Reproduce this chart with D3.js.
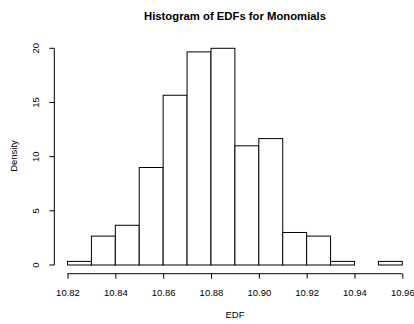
<!DOCTYPE html>
<html>
<head>
<meta charset="utf-8">
<script src="https://cdn.jsdelivr.net/npm/d3@7"></script>
<style>
  html, body { margin: 0; padding: 0; background: #fff; }
  svg { display: block; }
  text { font-family: "Liberation Sans", Arial, Helvetica, sans-serif; fill: #000; }
</style>
</head>
<body>
<svg id="chart" width="414" height="324"></svg>
<script>
// Histogram bins (EDF values, width 0.01) and observation counts per bin
const binStarts = [10.82, 10.83, 10.84, 10.85, 10.86, 10.87, 10.88, 10.89, 10.90, 10.91, 10.92, 10.93, 10.94, 10.95];
const binWidth = 0.01;
const counts = [1, 8, 11, 27, 47, 59, 60, 33, 35, 9, 8, 1, 0, 1];
const xTicks = [10.82, 10.84, 10.86, 10.88, 10.90, 10.92, 10.94, 10.96];
const yTicks = [0, 5, 10, 15, 20];

const total = d3.sum(counts);
const density = counts.map(c => c / (total * binWidth));

const svg = d3.select("#chart");
const fontFamily = "'Liberation Sans', Arial, sans-serif";
const labelSize = "9.5px";

// Plot region with 4% padding around the data range
const x = d3.scaleLinear().domain([10.82, 10.96]).range([67.5, 402.3]);
const y = d3.scaleLinear().domain([0, 20]).range([265, 48.3]);

const bars = binStarts.map((s, i) => ({ x0: s, x1: s + binWidth, d: density[i] }));

svg.append("g")
  .selectAll("rect")
  .data(bars)
  .join("rect")
  .attr("x", d => x(d.x0))
  .attr("y", d => y(d.d))
  .attr("width", d => x(d.x1) - x(d.x0))
  .attr("height", d => y(0) - y(d.d))
  .attr("fill", "#fff")
  .attr("stroke", "#000")
  .attr("stroke-width", 1);

// X axis
const xAxis = d3.axisBottom(x)
  .tickValues(xTicks)
  .tickFormat(d3.format(".2f"))
  .tickSize(5)
  .tickPadding(10.5);
const gx = svg.append("g")
  .attr("transform", "translate(0,273.7)")
  .call(xAxis);
gx.select(".domain").attr("d", `M${x(10.82)},0H${x(10.96)}`);
gx.selectAll("text").style("font-family", fontFamily).style("font-size", labelSize);

// Y axis: labels rotated parallel to the axis
const yAxis = d3.axisLeft(y)
  .tickValues(yTicks)
  .tickSize(5)
  .tickPadding(0);
const gy = svg.append("g")
  .attr("transform", "translate(54.3,0)")
  .call(yAxis);
gy.select(".domain").attr("d", `M0,${y(0)}V${y(20)}`);
gy.selectAll(".tick").attr("transform", null);
gy.selectAll(".tick line").attr("y1", d => y(d)).attr("y2", d => y(d));
gy.selectAll(".tick text")
  .attr("x", null).attr("dy", null).attr("y", 0)
  .attr("text-anchor", "middle")
  .attr("transform", d => `translate(-15,${y(d)}) rotate(-90)`)
  .style("font-family", fontFamily)
  .style("font-size", labelSize);

// Title and axis labels
svg.append("text")
  .attr("x", 235).attr("y", 20)
  .attr("text-anchor", "middle")
  .style("font-size", "11.3px")
  .style("font-weight", "bold")
  .text("Histogram of EDFs for Monomials");

svg.append("text")
  .attr("x", 235).attr("y", 318)
  .attr("text-anchor", "middle")
  .style("font-size", labelSize)
  .text("EDF");

svg.append("text")
  .attr("transform", "translate(17,156) rotate(-90)")
  .attr("text-anchor", "middle")
  .style("font-size", labelSize)
  .text("Density");
</script>
</body>
</html>
